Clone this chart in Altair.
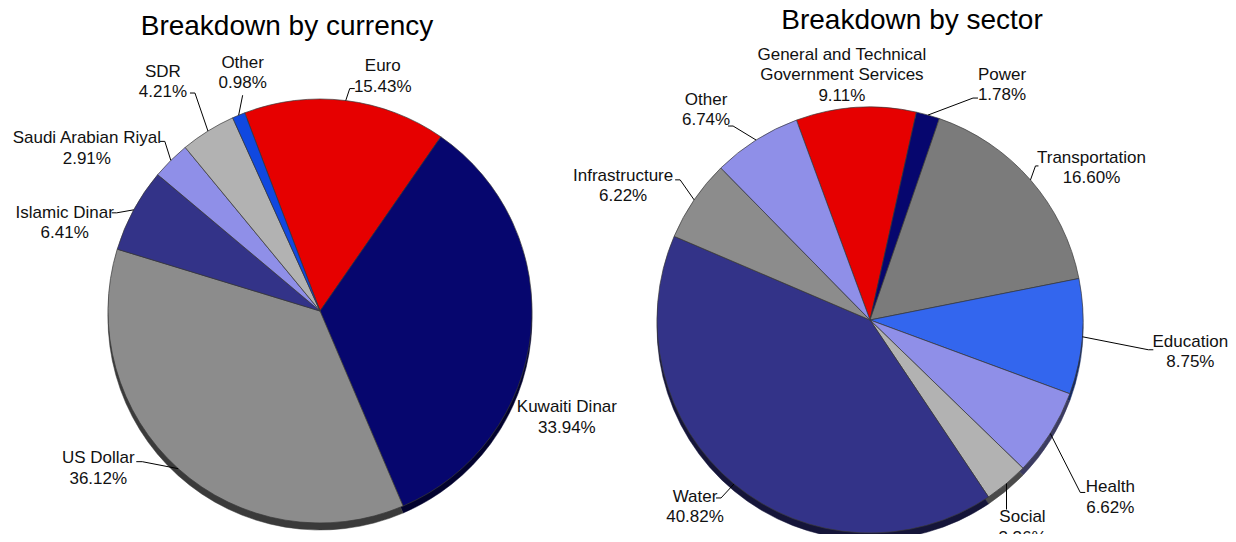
import math
import altair as alt
import pandas as pd

# ---------------- data ----------------
cur_labels = ["Euro", "Kuwaiti Dinar", "US Dollar", "Islamic Dinar",
              "Saudi Arabian Riyal", "SDR", "Other"]
cur_values = [15.43, 33.94, 36.12, 6.41, 2.91, 4.21, 0.98]

sec_labels = ["General and Technical\nGovernment Services", "Power", "Transportation",
              "Education", "Health", "Social", "Water", "Infrastructure", "Other"]
sec_values = [9.11, 1.78, 16.60, 8.75, 6.62, 3.36, 40.82, 6.22, 6.74]

titles = ["Breakdown by currency", "Breakdown by sector"]

# ---------------- styles / layout ----------------
cur_colors = ["#e60000", "#06066e", "#8c8c8c", "#333388", "#8f8fe8", "#b2b2b2", "#1048e0"]
sec_colors = ["#e60000", "#06066e", "#7b7b7b", "#3366ee", "#8f8fe8", "#b2b2b2",
              "#333388", "#8c8c8c", "#8f8fe8"]

# pie layout: center (page px), radius, start angle (deg clockwise from 12 o'clock)
cur_pie = dict(cx=320, cy=311, r=212, start=-20.8)
sec_pie = dict(cx=870, cy=320, r=213, start=-20.2)

# label-block centre offset from slice edge point, elbow offset (None = no leader), tick
cur_lab = [(37, -24), (36, 85), (-80, 0), (-69, 13), (-84, -12), (-45, -49), (4, -42)]
cur_elb = [(4, -12), None, (-36, -7), (-17, 3), (-6, -19), (-13, -38), (4, -20)]
cur_tick = [5, 0, -6, -5, -5, -5, 0]

sec_lab = [(-14, -32), (74, -30), (61, -12), (108, 15), (60, 64), (16, 44),
           (-39, 23), (-71, -14), (-50, -30)]
sec_elb = [None, (45, -17), (5, -14), (66, 13), (30, 59), (0, 26), (-13, 14),
           (-14, -20), (-23, -14)]
sec_tick = [0, 5, 3, 5, 5, 0, -5, -5, -5]

SHADOW_DY = 7
W, H = 1220, 526
LH = 20.5
FONT = "Liberation Sans"


def darker(hexcol, f=0.42):
    h = hexcol.lstrip("#")
    r, g, b = (int(h[i:i + 2], 16) for i in (0, 2, 4))
    return "#%02x%02x%02x" % (int(r * f), int(g * f), int(b * f))


arcs, texts, lines = [], [], []


def build(name, labels, values, colors, pie, lab, elb, tick):
    total = sum(values)
    ang = pie["start"]
    for i, (lbl, v, c) in enumerate(zip(labels, values, colors)):
        span = v / total * 360.0
        a0, a1 = ang, ang + span
        ang = a1
        mid = math.radians((a0 + a1) / 2)
        for layer, dy, col in (("shadow", SHADOW_DY, darker(c)), ("main", 0, c)):
            arcs.append(dict(layer=0 if layer == "shadow" else 1,
                             cx=pie["cx"], cy=pie["cy"] + dy, r=pie["r"],
                             t0=math.radians(a0), t1=math.radians(a1), col=col,
                             stroke=col if layer == "shadow" else "#3a3a3a"))
        ex = pie["cx"] + pie["r"] * math.sin(mid)
        ey = pie["cy"] - pie["r"] * math.cos(mid)
        txt = f"{lbl}\n{v:.2f}%"
        n = txt.count("\n") + 1
        texts.append(dict(x=ex + lab[i][0], y=ey + lab[i][1] - (n - 1) * LH / 2, txt=txt))
        if elb[i] is not None:
            bx, by = ex + elb[i][0], ey + elb[i][1]
            pts = [(bx + tick[i], by), (bx, by), (ex, ey)]
            for k, (px, py) in enumerate(pts):
                lines.append(dict(key=f"{name}{i}", ord=k, x=px, y=py))


build("c", cur_labels, cur_values, cur_colors, cur_pie, cur_lab, cur_elb, cur_tick)
build("s", sec_labels, sec_values, sec_colors, sec_pie, sec_lab, sec_elb, sec_tick)

arc_df = pd.DataFrame(arcs)
txt_df = pd.DataFrame(texts)
line_df = pd.DataFrame(lines)
title_df = pd.DataFrame(dict(x=[287, 912], y=[35, 29], txt=titles))

xs = alt.Scale(domain=[8, 8 + W], range=[0, W])
ys = alt.Scale(domain=[8, 8 + H], range=[0, H])
X = lambda f: alt.X(f"{f}:Q", scale=xs, axis=None)
Y = lambda f: alt.Y(f"{f}:Q", scale=ys, axis=None)


def pie_layer(df, sw):
    return alt.Chart(df).mark_arc(strokeWidth=sw).encode(
        x=X("cx"), y=Y("cy"),
        theta=alt.Theta("t0:Q", scale=None, stack=None),
        theta2=alt.Theta2("t1"),
        radius=alt.Radius("r:Q", scale=None),
        color=alt.Color("col:N", scale=None),
        stroke=alt.Stroke("stroke:N", scale=None),
    )


shadow = pie_layer(arc_df[arc_df.layer == 0], 0.5)
main = pie_layer(arc_df[arc_df.layer == 1], 0.7)
leaders = alt.Chart(line_df).mark_line(color="#000000", strokeWidth=1).encode(
    x=X("x"), y=Y("y"), detail="key:N", order="ord:Q")
labels = alt.Chart(txt_df).mark_text(
    font=FONT, fontSize=17, lineBreak="\n", lineHeight=LH,
    align="center", baseline="middle", color="#111111").encode(
    x=X("x"), y=Y("y"), text="txt:N")
ttl = alt.Chart(title_df).mark_text(
    font=FONT, fontSize=28, align="center", baseline="alphabetic", color="#000000").encode(
    x=X("x"), y=Y("y"), text="txt:N")

chart = alt.layer(shadow, main, leaders, labels, ttl).properties(
    width=W, height=H, padding=0,
    autosize=alt.AutoSizeParams(type="none"),
    background="#ffffff",
).configure_view(stroke=None)

chart.save("out.html", embed_options={"renderer": "svg", "actions": False})
